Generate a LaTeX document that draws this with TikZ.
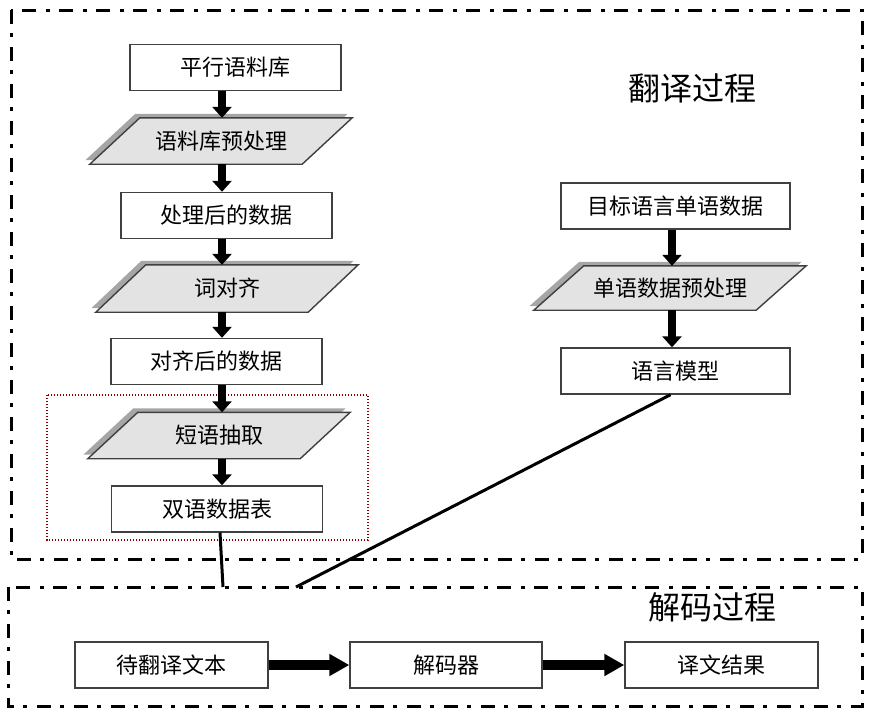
\documentclass[tikz,border=0pt]{standalone}
\usepackage{fontspec}
\newfontfamily\cjk{Noto Sans CJK SC}
\usetikzlibrary{arrows.meta}

\pgfdeclarelayer{bg}
\pgfsetlayers{bg,main}

\tikzset{
  box/.style={draw=black!75, line width=1.4pt, fill=white, minimum width=211pt,
    minimum height=46pt, inner sep=0pt, font=\cjk\fontsize{22}{26}\selectfont},
  paratext/.style={minimum width=212pt, minimum height=46pt, inner sep=0pt,
    font=\cjk\fontsize{22}{26}\selectfont},
  parashape/.style={draw=black!75, line width=1.4pt, fill=black!11},
  parashadow/.style={fill=black!35},
  title/.style={font=\cjk\fontsize{32}{36}\selectfont},
  frame/.style={line width=3pt, dash pattern=on 14pt off 9pt on 4pt off 10pt},
  downarrow/.style={line width=8pt, -{Triangle[width=19pt,length=11pt]}},
  rightarrow/.style={line width=10pt, -{Triangle[width=21pt,length=20pt]}},
  link/.style={line width=3pt}
}

\begin{document}
\begin{tikzpicture}[x=1pt, y=-1pt]
				\useasboundingbox (0,0) rectangle (878,716);

				% frames
				\draw[frame] (11,10) rectangle (862,559);
				\draw[frame] (8,587) rectangle (862,706);
				\draw[red!55!black, line width=1.3pt, dash pattern=on 1.4pt off 1.6pt] (47,395) rectangle (368,540);

				\node[title] (transtitle) at (692,88) {翻译过程};
				\node[title] (decodetitle) at (712,607) {解码过程};

				% translation model
				\node[box] (corpus) at (235.5,67.5) {平行语料库};
				\node[paratext] (prep) at (221,141) {语料库预处理};
				\node[box] (cleaned) at (226.5,215.5) {处理后的数据};
				\node[paratext, minimum height=47pt] (wordalign) at (227,288.5) {词对齐};
				\node[box] (aligned) at (216.5,361.5) {对齐后的数据};
				\node[paratext] (extract) at (219,435.5) {短语抽取};
				\node[box] (phrasetable) at (217,509) {双语数据表};

				% language model
				\node[box, minimum width=229pt] (mono) at (675.5,206) {目标语言单语数据};
				\node[paratext, minimum width=222pt, minimum height=44pt] (monoprep) at (670,288) {单语数据预处理};
				\node[box, minimum width=229pt] (lm) at (675.5,371) {语言模型};

				% decoding
				\node[box, minimum width=193pt] (input) at (171.5,665) {待翻译文本};
				\node[box, minimum width=192pt] (decoder) at (446,665) {解码器};
				\node[box, minimum width=193pt] (result) at (721.5,665) {译文结果};

				% parallelograms behind the texts, shadow to the upper left
				\begin{pgfonlayer}{bg}
					\foreach \n in {prep, wordalign, extract, monoprep} {
						\fill[parashadow] ([xshift=20.5pt,yshift=4pt]\n.north west) -- ([xshift=20.5pt,yshift=4pt]\n.north east)
							-- ([xshift=-29.5pt,yshift=4pt]\n.south east) -- ([xshift=-29.5pt,yshift=4pt]\n.south west) -- cycle;
						\draw[parashape] ([xshift=25pt]\n.north west) -- ([xshift=25pt]\n.north east)
							-- ([xshift=-25pt]\n.south east) -- ([xshift=-25pt]\n.south west) -- cycle;
					}
				\end{pgfonlayer}

				\coordinate (leftcol) at (222,0);
				\coordinate (rightcol) at (672,0);
				\foreach \a/\b in {corpus/prep, prep/cleaned, cleaned/wordalign, wordalign/aligned, aligned/extract, extract/phrasetable}
					\draw[downarrow] (\a.south -| leftcol) -- (\b.north -| leftcol);
				\foreach \a/\b in {mono/monoprep, monoprep/lm}
					\draw[downarrow] (\a.south -| rightcol) -- (\b.north -| rightcol);

				\draw[rightarrow] (input) -- (decoder);
				\draw[rightarrow] (decoder) -- (result);

				\coordinate (tablejoin) at (223,587);
				\coordinate (lmjoin) at (296,587);
				\draw[link] ([xshift=3pt]phrasetable.south) -- (tablejoin);
				\draw[link] ([xshift=-5pt]lm.south) -- (lmjoin);

			\end{tikzpicture}
\end{document}
